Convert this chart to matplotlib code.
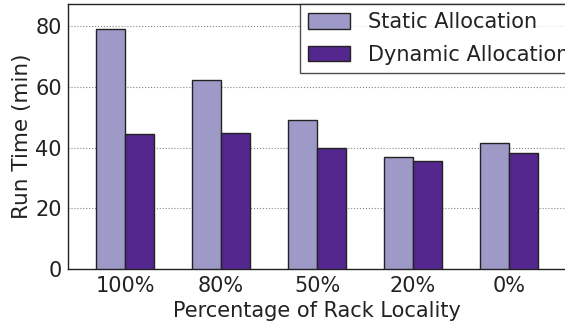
import matplotlib
matplotlib.use("Agg")
import matplotlib.pyplot as plt
import numpy as np

categories = ["100%", "80%", "50%", "20%", "0%"]
static_alloc = [79.2, 62.3, 49.0, 36.8, 41.6]
dynamic_alloc = [44.6, 44.8, 40.0, 35.6, 38.2]
yticks = [0, 20, 40, 60, 80]

plt.rcParams["font.family"] = "DejaVu Sans"
plt.rcParams["font.size"] = 15

fig = plt.figure(figsize=(5.65, 3.24), dpi=100)
ax = fig.add_axes([0.1204, 0.1698, 0.8823, 0.8179])

x = np.arange(len(categories))
w = 0.3
ax.bar(x - w / 2, static_alloc, w, color="#9e9ac8", edgecolor="#222222",
       linewidth=1.0, label="Static Allocation", zorder=3)
ax.bar(x + w / 2, dynamic_alloc, w, color="#54278f", edgecolor="#222222",
       linewidth=1.0, label="Dynamic Allocation", zorder=3)

ax.set_xlim(-0.595, 4.6)
ax.set_ylim(0, 87.3)
ax.set_xticks(x)
ax.set_xticklabels(categories)
ax.set_yticks(yticks)
ax.tick_params(axis="y", length=0, pad=4.5, labelsize=15, colors="#222222")
ax.tick_params(axis="x", length=0, pad=5, labelsize=15, colors="#222222")
ax.yaxis.grid(True, linestyle=":", color="#888888", linewidth=0.8, zorder=0)
for s in ax.spines.values():
    s.set_color("#222222")
    s.set_linewidth(1.0)

ax.set_ylabel("Run Time (min)", fontsize=15.5, color="#222222", labelpad=2)
ax.set_xlabel("Percentage of Rack Locality", fontsize=15, color="#222222", labelpad=4)

leg = ax.legend(loc="upper right", bbox_to_anchor=(1.022, 1.0), borderaxespad=0,
                fancybox=False, frameon=True, fontsize=15, handlelength=2.0,
                handleheight=0.77, handletextpad=0.85, labelspacing=0.6,
                borderpad=0.4)
leg.get_frame().set_edgecolor("#222222")
leg.get_frame().set_linewidth(1.0)
for t in leg.get_texts():
    t.set_color("#222222")

fig.savefig("out.png", dpi=100)
